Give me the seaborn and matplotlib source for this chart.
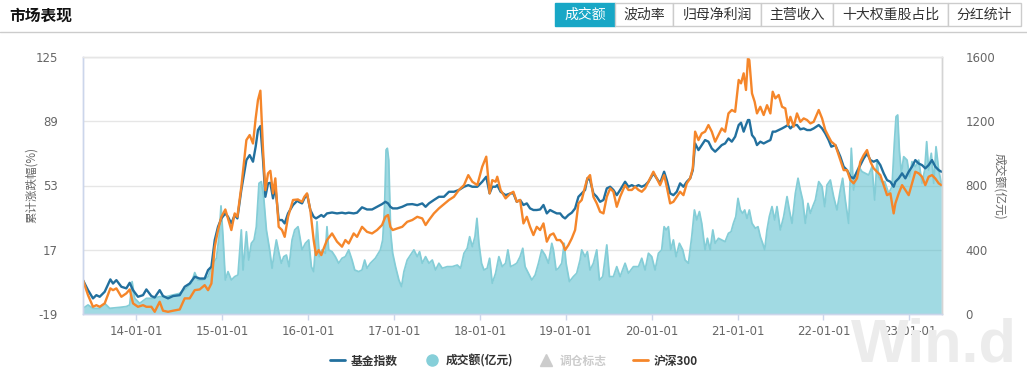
import matplotlib
matplotlib.use("Agg")
import matplotlib.pyplot as plt
import matplotlib.dates as mdates
from matplotlib.patches import Rectangle
from matplotlib.lines import Line2D
import numpy as np
import pandas as pd
import seaborn as sns

# dates are kept as decimal years
line_t = [
    2013.379, 2013.437, 2013.495, 2013.534, 2013.573, 2013.631, 2013.697, 2013.728, 2013.767, 2013.825,
    2013.883, 2013.922, 2013.961, 2014.019, 2014.078, 2014.117, 2014.175, 2014.214, 2014.272, 2014.311,
    2014.369, 2014.427, 2014.505, 2014.563, 2014.621, 2014.680, 2014.738, 2014.796, 2014.835, 2014.874,
    2014.913, 2014.951, 2014.990, 2015.037, 2015.068, 2015.107, 2015.146, 2015.177, 2015.223, 2015.282,
    2015.320, 2015.359, 2015.390, 2015.417, 2015.445, 2015.476, 2015.503, 2015.534, 2015.561, 2015.592,
    2015.619, 2015.658, 2015.697, 2015.728, 2015.767, 2015.825, 2015.883,
    2015.891, 2015.930, 2015.957, 2015.988, 2016.027, 2016.066, 2016.093, 2016.124, 2016.155, 2016.183,
    2016.221, 2016.280, 2016.338, 2016.396, 2016.435, 2016.474, 2016.532, 2016.571, 2016.629, 2016.687,
    2016.746, 2016.804, 2016.862, 2016.901, 2016.932, 2016.959, 2016.986, 2017.037, 2017.095, 2017.153,
    2017.212, 2017.270, 2017.328, 2017.367, 2017.406, 2017.464, 2017.522, 2017.581, 2017.639, 2017.697,
    2017.755, 2017.814, 2017.864, 2017.911, 2017.969, 2018.027, 2018.074, 2018.113, 2018.144, 2018.183,
    2018.202, 2018.241, 2018.299, 2018.357,
    2018.390, 2018.429, 2018.468, 2018.507, 2018.546, 2018.584, 2018.623, 2018.662, 2018.701, 2018.740,
    2018.779, 2018.817, 2018.856, 2018.895, 2018.934, 2018.965, 2018.992, 2019.031, 2019.070, 2019.109,
    2019.148, 2019.186, 2019.225, 2019.252, 2019.283, 2019.322, 2019.361, 2019.400, 2019.439, 2019.478,
    2019.517, 2019.555, 2019.594, 2019.633, 2019.691, 2019.730, 2019.769, 2019.808, 2019.847, 2019.885,
    2019.924, 2019.963, 2020.021, 2020.060, 2020.099, 2020.146, 2020.177, 2020.216, 2020.254, 2020.293,
    2020.332, 2020.371, 2020.410, 2020.449, 2020.480, 2020.507, 2020.546, 2020.584, 2020.623, 2020.662,
    2020.701, 2020.740, 2020.779, 2020.817, 2020.856, 2020.895,
    2020.934, 2020.973, 2021.012, 2021.039, 2021.070, 2021.097, 2021.120, 2021.136, 2021.167, 2021.198,
    2021.225, 2021.264, 2021.303, 2021.342, 2021.381, 2021.408, 2021.439, 2021.478, 2021.517, 2021.555,
    2021.586, 2021.614, 2021.652, 2021.691, 2021.730, 2021.769, 2021.808, 2021.847, 2021.885, 2021.944,
    2021.983, 2022.021, 2022.060, 2022.091, 2022.138, 2022.196, 2022.235, 2022.274, 2022.313, 2022.351,
    2022.390, 2022.429, 2022.468, 2022.507, 2022.546, 2022.584, 2022.623, 2022.662, 2022.701, 2022.740,
    2022.779, 2022.817, 2022.837, 2022.876, 2022.915, 2022.953, 2022.992, 2023.031, 2023.070, 2023.109,
    2023.148, 2023.186, 2023.225, 2023.264, 2023.303, 2023.342, 2023.373,
]

fund_idx = [
    0, -5.5, -10.1, -8.3, -9.2, -6.4, 0.5, -1.8, 0.1, -3.6,
    -4.5, -1.4, -5.5, -9.2, -8.3, -5.1, -8.8, -9.6, -5.5, -8.8,
    -10.1, -8.8, -8.3, -3.6, -1.8, 2.0, 1.0, 1.0, 5.7, 7.6,
    22.5, 29.9, 34.6, 37.4, 35.5, 31.8, 36.5, 34.6, 50.5, 67.2,
    70.0, 66.3, 74.7, 84.0, 86.2, 67.2, 46.7, 54.2, 54.5, 45.8,
    52.3, 33.7, 33.7, 31.8, 37.4, 42.1, 44.9,
    43.9, 43.0, 45.8, 48.2, 39.3, 35.5, 34.6, 35.5, 36.5, 35.5,
    37.4, 37.9, 37.4, 37.8, 37.4, 37.8, 37.4, 37.8, 40.8, 39.6,
    39.6, 41.1, 42.6, 43.9, 43.0, 41.1, 40.2, 40.2, 41.1, 42.4,
    42.6, 42.0, 43.0, 41.1, 43.0, 44.9, 46.7, 46.7, 49.5, 49.5,
    50.5, 52.3, 53.2, 52.3, 52.3, 55.1, 57.9, 48.6, 52.3, 52.3,
    53.2, 49.5, 47.6, 48.6,
    48.6, 43.9, 44.9, 42.1, 43.0, 40.2, 39.3, 39.3, 39.6, 42.1,
    37.4, 39.3, 38.3, 37.4, 37.4, 35.5, 34.6, 36.5, 37.8, 40.2,
    46.7, 48.6, 50.5, 57.0, 56.0, 48.6, 46.7, 43.9, 44.9, 51.4,
    52.3, 50.5, 47.6, 50.5, 55.1, 52.3, 53.2, 52.3, 53.2, 52.3,
    53.2, 55.1, 59.8, 57.0, 54.2, 60.7, 56.0, 48.6, 47.6, 49.5,
    54.2, 52.3, 55.1, 57.0, 61.6, 76.5, 72.8, 75.6, 78.4, 77.5,
    73.7, 71.9, 73.7, 75.6, 76.5, 79.3,
    77.5, 80.3, 86.8, 88.1, 83.1, 86.8, 89.6, 89.6, 81.2, 79.3,
    75.6, 77.5, 76.5, 77.5, 78.4, 83.1, 83.1, 84.0, 84.9, 85.9,
    86.8, 84.9, 86.8, 86.8, 84.4, 84.9, 84.0, 84.0, 84.9, 86.8,
    84.9, 82.1, 78.4, 74.7, 75.6, 69.1, 63.5, 61.6, 57.9, 57.0,
    60.7, 64.4, 68.1, 70.9, 67.2, 66.3, 67.2, 64.4, 59.8, 56.0,
    55.1, 52.3, 55.1, 57.0, 59.8, 57.0, 60.7, 63.5, 67.2, 65.3,
    64.4, 62.6, 64.4, 67.2, 63.5, 61.6, 60.7,
]

hs300 = [
    0, -8.3, -14.8, -13.9, -14.8, -12.9, -4.5, -5.5, -4.5, -9.2,
    -7.3, -5.1, -12.9, -14.8, -13.9, -14.8, -14.8, -17.6, -12.0, -17.0,
    -17.6, -17.0, -16.3, -10.1, -10.1, -5.5, -5.1, -2.7, -5.5, -1.8,
    18.7, 28.1, 35.5, 39.6, 34.6, 28.1, 37.4, 35.5, 52.3, 78.4,
    81.2, 76.5, 90.5, 100.8, 106.0, 72.8, 50.4, 59.8, 61.2, 48.6,
    57.0, 29.9, 28.1, 24.3, 35.5, 44.9, 45.2,
    44.9, 43.9, 46.7, 48.6, 39.3, 22.5, 14.1, 16.9, 14.1, 17.8,
    22.5, 26.2, 21.6, 18.8, 22.5, 20.6, 26.2, 24.3, 29.9, 27.1,
    26.2, 28.1, 30.9, 35.5, 36.5, 29.9, 28.1, 29.0, 29.9, 32.7,
    33.7, 35.5, 34.6, 30.9, 33.7, 37.4, 40.2, 42.6, 44.9, 46.7,
    50.5, 53.2, 58.8, 55.1, 53.2, 63.5, 69.1, 48.6, 56.0, 55.1,
    57.9, 50.5, 45.8, 48.6,
    49.5, 43.9, 44.9, 31.8, 35.5, 29.9, 25.3, 29.9, 28.1, 31.8,
    21.6, 25.3, 26.2, 22.5, 22.5, 20.6, 16.9, 19.7, 23.4, 28.1,
    43.0, 44.9, 52.3, 57.0, 58.8, 46.7, 43.0, 38.3, 37.4, 46.7,
    51.4, 49.5, 41.1, 46.7, 53.2, 50.5, 50.5, 52.3, 50.5, 49.5,
    51.4, 55.1, 60.7, 57.0, 53.2, 58.8, 52.3, 43.0, 43.9, 46.7,
    49.5, 47.6, 54.2, 57.0, 62.6, 83.1, 78.4, 82.1, 83.1, 86.8,
    83.1, 77.5, 81.2, 84.9, 83.1, 93.3,
    95.2, 94.2, 112.0, 110.1, 115.7, 106.4, 124.1, 123.1, 104.5, 99.8,
    93.3, 97.0, 92.4, 97.9, 93.3, 105.4, 101.7, 103.6, 97.0, 96.1,
    86.8, 91.4, 85.9, 93.3, 88.6, 90.5, 89.6, 87.7, 88.6, 95.2,
    90.5, 84.0, 80.3, 77.5, 75.6, 67.2, 61.6, 61.6, 56.0, 54.2,
    57.0, 66.3, 70.0, 72.8, 66.3, 62.6, 60.7, 58.8, 53.2, 47.6,
    48.6, 37.4, 43.0, 48.6, 53.2, 50.5, 47.6, 54.2, 60.7, 59.8,
    57.9, 53.2, 57.9, 58.8, 56.9, 54.2, 53.2,
]

vol_t = [
    2013.379, 2013.437, 2013.495, 2013.573, 2013.631, 2013.689, 2013.806, 2013.883, 2013.922, 2013.950,
    2013.981, 2014.039, 2014.117, 2014.194, 2014.272, 2014.350, 2014.427, 2014.505, 2014.583, 2014.641,
    2014.680, 2014.718, 2014.777, 2014.835, 2014.893, 2014.932, 2014.963, 2014.986, 2015.010, 2015.037,
    2015.068, 2015.107, 2015.146, 2015.184, 2015.223, 2015.243, 2015.282, 2015.309, 2015.340, 2015.371,
    2015.398, 2015.429, 2015.456, 2015.483, 2015.515, 2015.553, 2015.581, 2015.612, 2015.631, 2015.662,
    2015.689, 2015.717, 2015.748, 2015.779, 2015.814, 2015.845, 2015.883,
    2015.891, 2015.930, 2015.969, 2016.008, 2016.039, 2016.066, 2016.085, 2016.105, 2016.132, 2016.163,
    2016.202, 2016.221, 2016.241, 2016.280, 2016.318, 2016.357, 2016.396, 2016.435, 2016.474, 2016.513,
    2016.544, 2016.590, 2016.629, 2016.660, 2016.687, 2016.726, 2016.784, 2016.843, 2016.870, 2016.893,
    2016.909, 2016.924, 2016.940, 2016.963, 2016.986, 2017.017, 2017.056, 2017.087, 2017.115, 2017.153,
    2017.192, 2017.231, 2017.270, 2017.297, 2017.328, 2017.367, 2017.406, 2017.445, 2017.483, 2017.522,
    2017.561, 2017.619, 2017.678, 2017.736, 2017.775, 2017.814, 2017.852, 2017.880, 2017.911, 2017.942,
    2017.965, 2017.988, 2018.019, 2018.047, 2018.085, 2018.113, 2018.144, 2018.183, 2018.221, 2018.260,
    2018.299, 2018.326, 2018.357, 2018.396,
    2018.429, 2018.468, 2018.499, 2018.526, 2018.565, 2018.604, 2018.643, 2018.682, 2018.720, 2018.759,
    2018.798, 2018.837, 2018.856, 2018.887, 2018.915, 2018.953, 2018.981, 2019.004, 2019.043, 2019.089,
    2019.128, 2019.167, 2019.186, 2019.225, 2019.252, 2019.283, 2019.322, 2019.361, 2019.392, 2019.431,
    2019.478, 2019.509, 2019.555, 2019.594, 2019.633, 2019.691, 2019.730, 2019.788, 2019.847, 2019.885,
    2019.924, 2019.963, 2020.002, 2020.041, 2020.080, 2020.118, 2020.146, 2020.169, 2020.196, 2020.223,
    2020.254, 2020.285, 2020.324, 2020.363, 2020.390, 2020.429, 2020.468, 2020.499, 2020.526, 2020.557,
    2020.584, 2020.623, 2020.650, 2020.682, 2020.713, 2020.740, 2020.779, 2020.817, 2020.856, 2020.895,
    2020.926, 2020.953, 2020.981, 2021.004, 2021.031, 2021.058, 2021.082, 2021.109, 2021.136, 2021.167,
    2021.206, 2021.237, 2021.264, 2021.291, 2021.315, 2021.342, 2021.369, 2021.400, 2021.431, 2021.458,
    2021.497, 2021.536, 2021.575, 2021.602, 2021.633, 2021.672, 2021.703, 2021.730, 2021.757, 2021.788,
    2021.819, 2021.847, 2021.874, 2021.905, 2021.944, 2021.983, 2022.014, 2022.041, 2022.080, 2022.118,
    2022.157, 2022.196, 2022.223, 2022.254, 2022.293, 2022.324, 2022.351, 2022.379, 2022.410, 2022.449,
    2022.487, 2022.526, 2022.565, 2022.596, 2022.623, 2022.643, 2022.674, 2022.713, 2022.759, 2022.798,
    2022.825, 2022.845, 2022.864, 2022.883, 2022.907, 2022.934, 2022.973, 2023.004, 2023.031, 2023.070,
    2023.109, 2023.148, 2023.179, 2023.202, 2023.225, 2023.256, 2023.284, 2023.311, 2023.342, 2023.373,
]

volume = [
    37, 58, 37, 37, 68, 37, 43, 48, 58, 203,
    99, 68, 99, 99, 110, 110, 120, 130, 161, 193,
    259, 213, 213, 234, 317, 348, 482, 673, 482, 213,
    265, 213, 234, 244, 524, 275, 513, 337, 441, 462,
    544, 814, 824, 731, 524, 400, 286, 400, 462, 379,
    317, 358, 368, 296, 462, 524, 544,
    524, 400, 441, 462, 296, 265, 400, 575, 358, 400,
    379, 544, 400, 389, 358, 317, 348, 358, 400, 337,
    275, 265, 275, 337, 286, 317, 348, 400, 462, 689,
    1021, 1031, 958, 503, 379, 296, 213, 172, 265, 337,
    368, 400, 358, 389, 317, 358, 317, 337, 275, 317,
    286, 296, 296, 306, 286, 379, 410, 482, 420, 482,
    596, 441, 317, 275, 286, 348, 193, 255, 358, 296,
    317, 400, 296, 306,
    317, 358, 410, 296, 255, 213, 244, 317, 400, 368,
    317, 441, 400, 275, 286, 317, 441, 317, 203, 234,
    255, 337, 400, 358, 389, 275, 317, 400, 213, 234,
    431, 234, 234, 296, 234, 317, 255, 296, 296, 348,
    275, 379, 358, 275, 379, 400, 544, 524, 544, 400,
    462, 358, 441, 400, 337, 317, 482, 648, 586, 638,
    565, 400, 472, 400, 524, 441, 472, 462, 451, 503,
    513, 565, 607, 720, 648, 627, 648, 596, 648, 565,
    534, 544, 482, 441, 400, 524, 607, 669, 586, 669,
    524, 607, 731, 648, 565, 751, 845, 772, 710, 565,
    689, 627, 669, 710, 824, 793, 669, 803, 834, 731,
    648, 772, 845, 710, 565, 1031, 772, 876, 917, 886,
    876, 865, 917, 710, 958, 855, 824, 824, 751, 793,
    1062, 1228, 1238, 1021, 876, 979, 958, 855, 948, 917,
    958, 814, 896, 1072, 896, 1000, 814, 1041, 896, 814,
]

left_ticks = [-19, 17, 53, 89, 125]
right_ticks = [0, 400, 800, 1200, 1600]
tabs = ["成交额", "波动率", "归母净利润", "主营收入", "十大权重股占比", "分红统计"]
legend_names = ["基金指数", "成交额(亿元)", "调仓标志", "沪深300"]

BLUE = "#22709e"
ORANGE = "#f5862a"
AREA = "#45b7c8"
AREA_EDGE = "#84cdd7"


def to_date(y):
    yr = int(y)
    return pd.Timestamp(year=yr, month=1, day=1) + pd.Timedelta(days=(y - yr) * 365.25)


df_line = pd.DataFrame({"date": [to_date(v) for v in line_t], "fund": fund_idx, "hs300": hs300})
df_vol = pd.DataFrame({"date": [to_date(v) for v in vol_t], "vol": volume})

sns.set_theme(style="white")
plt.rcParams['font.family'] = ['Noto Sans CJK SC', 'DejaVu Sans']
plt.rcParams['axes.unicode_minus'] = False

W, H = 1027, 381
fig = plt.figure(figsize=(W / 100, H / 100), dpi=100)
fig.patch.set_facecolor("white")

# watermark, drawn first so everything else sits over it
fig.text(1017 / W, 1 - 362 / H, "Win.d", ha="right", va="baseline", fontsize=44,
         fontweight="bold", color="#ececec", family=["Liberation Sans"])

ax = fig.add_axes([82.7 / W, 1 - 314.3 / H, (941.7 - 82.7) / W, (314.3 - 56.7) / H])
ax2 = ax.twinx()
ax.set_zorder(2)
ax2.set_zorder(1)
ax.patch.set_visible(False)
ax2.patch.set_visible(False)

# volume area on the right axis (grid lives here so the area sits on top of it)
ax2.fill_between(df_vol["date"], 0, df_vol["vol"], color=AREA, alpha=0.5, lw=0)
sns.lineplot(data=df_vol, x="date", y="vol", ax=ax2, color=AREA_EDGE, lw=1.3)
ax2.set_ylim(0, 1600)
ax2.set_yticks(right_ticks)
ax2.set_yticklabels([str(v) for v in right_ticks])
ax2.yaxis.grid(True, color="#e6e6e6", lw=1)
ax2.set_axisbelow(True)
ax2.set_ylabel("")

sns.lineplot(data=df_line, x="date", y="fund", ax=ax, color=BLUE, lw=1.7)
sns.lineplot(data=df_line, x="date", y="hs300", ax=ax, color=ORANGE, lw=1.7)
ax.set_ylim(-19, 125)
ax.set_yticks(left_ticks)
ax.set_yticklabels([str(v) for v in left_ticks])
ax.set_xlim(to_date(2013.375), to_date(2023.377))
ax.set_xlabel("")
ax.set_ylabel("")
ax.grid(False)

ax.xaxis.set_major_locator(mdates.YearLocator())
ax.xaxis.set_major_formatter(mdates.DateFormatter("%y-%m-%d"))

ax.tick_params(axis="x", bottom=True, length=4, width=1, color="#ccd6eb",
               labelsize=8.5, labelcolor="#666666", pad=4)
ax.tick_params(axis="y", left=False, labelsize=8.5, labelcolor="#666666", pad=12)
ax2.tick_params(axis="y", right=False, labelsize=8.5, labelcolor="#666666", pad=11)
for lab in ax.get_xticklabels() + ax.get_yticklabels() + ax2.get_yticklabels():
    lab.set_family(['DejaVu Sans'])

for a in (ax, ax2):
    a.spines["left"].set_color("#ccd6eb")
    a.spines["bottom"].set_color("#ccd6eb")
    a.spines["top"].set_color("#e6e6e6")
    a.spines["right"].set_color("#d4d4d4")
    for s in a.spines.values():
        s.set_linewidth(1)

fig.text(31 / W, 1 - 185 / H, "累计涨跌幅(%)", rotation=90, ha="center", va="center",
         fontsize=8.3, color="#666666")
fig.text(999 / W, 1 - 186 / H, "成交额(亿元)", rotation=270, ha="center", va="center",
         fontsize=8.5, color="#666666")

# header
fig.text(9 / W, 1 - 16 / H, "市场表现", ha="left", va="center", fontsize=11.3,
         fontweight="bold", color="#111111")
fig.add_artist(Line2D([0, 1], [1 - 32.3 / H, 1 - 32.3 / H], transform=fig.transFigure,
                      color="#cccccc", lw=1))
edges = [555, 615, 673.3, 760.7, 833.3, 948.3, 1021]
for i, name in enumerate(tabs):
    x0, x1 = edges[i], edges[i + 1]
    sel = i == 0
    fig.add_artist(Rectangle((x0 / W, 1 - 26 / H), (x1 - x0) / W, 22.7 / H,
                             transform=fig.transFigure,
                             facecolor="#18a7c6" if sel else "white",
                             edgecolor="#18a7c6" if sel else "#cccccc", lw=1))
    fig.text((x0 + x1) / 2 / W, 1 - 14.8 / H, name, ha="center", va="center", fontsize=10,
             color="white" if sel else "#333333")

handles = [
    Line2D([], [], color=BLUE, lw=2),
    Line2D([], [], ls="", marker="o", ms=8, color="#86cfd9"),
    Line2D([], [], ls="", marker="^", ms=8, color="#cccccc"),
    Line2D([], [], color=ORANGE, lw=2),
]
leg = fig.legend(handles, legend_names, loc="center", bbox_to_anchor=(514 / W, 1 - 361 / H),
                 ncol=4, frameon=False, handlelength=1.3, handletextpad=0.5,
                 columnspacing=2.2, prop={"size": 8.5, "weight": "bold"})
for txt, c in zip(leg.get_texts(), ["#333333", "#333333", "#cccccc", "#333333"]):
    txt.set_color(c)

fig.savefig("out.png", dpi=100, facecolor="white")
